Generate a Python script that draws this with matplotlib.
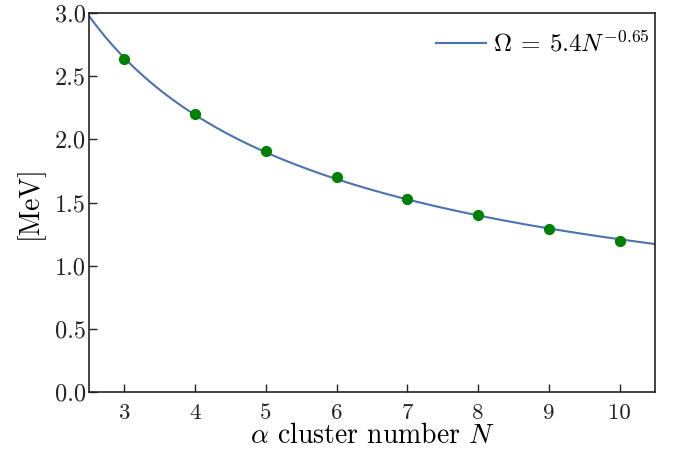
import numpy as np
import matplotlib
matplotlib.use("Agg")
import matplotlib.pyplot as plt

plt.rcParams['font.family'] = 'serif'
plt.rcParams['font.serif'] = ['cmr10']
plt.rcParams['mathtext.fontset'] = 'cm'
plt.rcParams['axes.formatter.use_mathtext'] = True

N_points = [3, 4, 5, 6, 7, 8, 9, 10]
omega_points = [2.635, 2.20, 1.908, 1.70, 1.528, 1.40, 1.29, 1.196]
fit_coef = 5.4
fit_exp = -0.65
xticks = [3, 4, 5, 6, 7, 8, 9, 10]
yticks = [0.0, 0.5, 1.0, 1.5, 2.0, 2.5, 3.0]

fig = plt.figure(figsize=(6.75, 4.51), dpi=100)
ax = fig.add_axes([89/675, 1-392/451, (655-89)/675, (392-13)/451])

xf = np.linspace(2.5, 10.5, 400)
ax.plot(xf, fit_coef * xf**fit_exp, color='#4C72B0', lw=1.5,
        label=r'$\Omega\:=\:5.4N^{-0.65}$')
ax.scatter(N_points, omega_points, color='green', s=50, zorder=3)

ax.set_xlim(2.5, 10.5)
ax.set_ylim(0, 3.0)
ax.set_xticks(xticks)
ax.set_xticklabels([str(v) for v in xticks])
ax.set_yticks(yticks)
ax.set_yticklabels([f'{v:.1f}' for v in yticks])
ax.tick_params(axis='x', direction='in', length=6, width=1, colors='#222222', labelsize=16.5, pad=8)
ax.tick_params(axis='y', direction='in', length=6, width=1, colors='#222222', labelsize=17.5, pad=2)
for s in ax.spines.values():
    s.set_color('#222222')
    s.set_linewidth(1.2)
ax.set_xlabel(r'$\alpha$ cluster number $N$', fontsize=20, labelpad=0)
ax.set_ylabel('[MeV]', fontsize=20, labelpad=8)
ax.legend(loc='upper right', bbox_to_anchor=(1.0, 0.967), frameon=False,
          fontsize=18, handlelength=2.0, borderaxespad=0, borderpad=0.2,
          handletextpad=0.3)

fig.savefig('out.png', dpi=100)
